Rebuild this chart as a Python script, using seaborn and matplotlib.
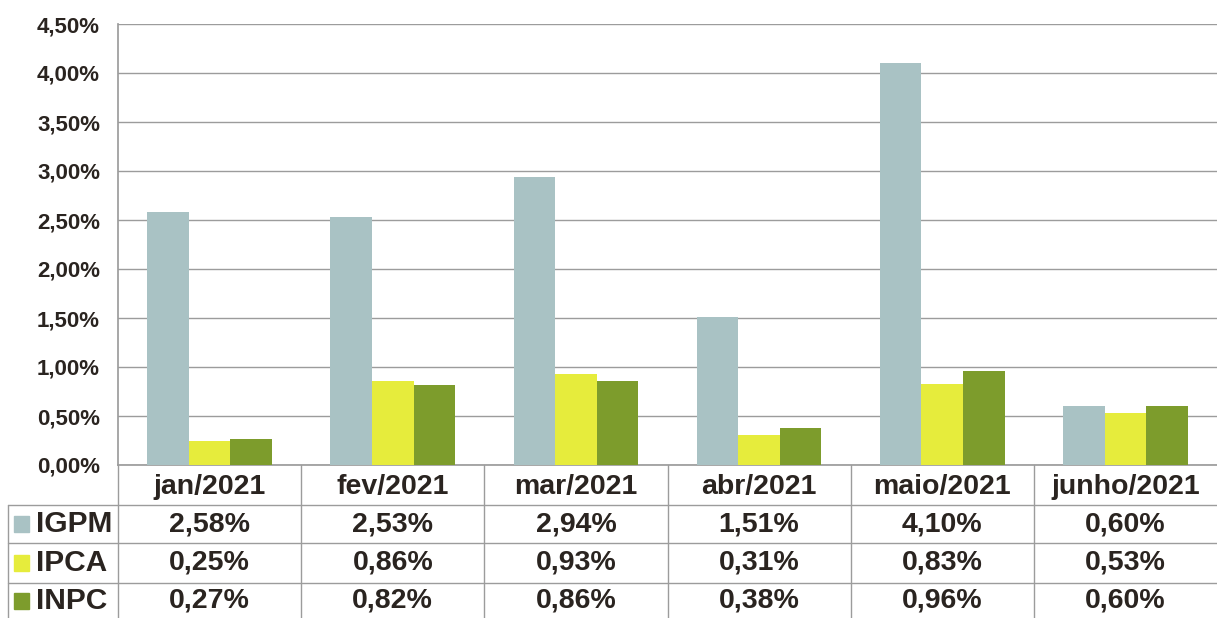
import numpy as np
import pandas as pd
import matplotlib.pyplot as plt
import matplotlib.transforms as mtransforms
import matplotlib.ticker as mticker
import seaborn as sns

# ── data ─────────────────────────────────────────────────────────────────────
meses = ['jan/2021', 'fev/2021', 'mar/2021', 'abr/2021', 'maio/2021', 'junho/2021']
indices = ['IGPM', 'IPCA', 'INPC']
igpm = [2.58, 2.53, 2.94, 1.51, 4.10, 0.60]
ipca = [0.25, 0.86, 0.93, 0.31, 0.83, 0.53]
inpc = [0.27, 0.82, 0.86, 0.38, 0.96, 0.60]
cores = {'IGPM': '#a9c2c4', 'IPCA': '#e6ec3c', 'INPC': '#7d9c2c'}

df = pd.DataFrame({
    'mes': meses * 3,
    'indice': np.repeat(indices, len(meses)),
    'valor': igpm + ipca + inpc,
})

def fmt(v):
    return f'{v:.2f}%'.replace('.', ',')

# ── style ────────────────────────────────────────────────────────────────────
sns.set_theme(style='white')
plt.rcParams['font.family'] = ['Liberation Sans', 'DejaVu Sans']
TXT = '#2a2420'
LINE = '#9c9c9c'

fig = plt.figure(figsize=(12.17, 6.18), dpi=100, facecolor='white')
W, H = 1217, 618
ax = fig.add_axes([118 / W, (H - 465) / H, 1099 / W, 441 / H])

sns.barplot(data=df, x='mes', y='valor', hue='indice', order=meses,
            hue_order=indices, palette=cores, width=0.68, saturation=1,
            linewidth=0, legend=False, ax=ax, zorder=3)

ax.set_ylim(0, 4.5)
ax.set_xlim(-0.5, len(meses) - 0.5)
ax.yaxis.set_major_locator(mticker.MultipleLocator(0.5))
ax.yaxis.set_major_formatter(mticker.FuncFormatter(lambda v, p: fmt(v)))
ax.tick_params(axis='y', labelsize=16, colors=TXT, length=0, pad=13)
for lab in ax.get_yticklabels():
    lab.set_fontweight('bold')
ax.set_xticks([])
ax.set_xlabel('')
ax.set_ylabel('')
ax.grid(axis='y', color=LINE, lw=1, zorder=0)
for s in ['top', 'right']:
    ax.spines[s].set_visible(False)
ax.spines['left'].set_color(LINE)
ax.spines['bottom'].set_color(LINE)

# ── data table under the plot ────────────────────────────────────────────────
blend = mtransforms.blended_transform_factory(ax.transData, ax.transAxes)
row_lines = [-0.0907, -0.177, -0.268, -0.36]
row_text = [-0.134, -0.222, -0.308]
head_y = -0.050

for y in row_lines[:-1]:
    ax.plot([-0.1, 1], [y, y], transform=ax.transAxes, color=LINE, lw=1, clip_on=False)
ax.plot([-0.1, -0.1], [row_lines[0], row_lines[-1]], transform=ax.transAxes,
        color=LINE, lw=1, clip_on=False)
ax.plot([0, 0], [0, row_lines[-1]], transform=ax.transAxes, color=LINE, lw=1, clip_on=False)
for i in range(1, len(meses)):
    ax.plot([i - 0.5, i - 0.5], [0, row_lines[-1]], transform=blend,
            color=LINE, lw=1, clip_on=False)

for i, m in enumerate(meses):
    ax.text(i, head_y, m, transform=blend, ha='center', va='center',
            fontsize=20.5, fontweight='bold', color=TXT, clip_on=False)

for r, (nome, vals) in enumerate(zip(indices, [igpm, ipca, inpc])):
    y = row_text[r]
    ax.add_patch(plt.Rectangle((-0.0946, y - 0.018), 0.0138, 0.036, transform=ax.transAxes,
                               color=cores[nome], clip_on=False))
    ax.text(-0.075, y, nome, transform=ax.transAxes, ha='left', va='center',
            fontsize=21.5, fontweight='bold', color=TXT, clip_on=False)
    for i, v in enumerate(vals):
        ax.text(i, y, fmt(v), transform=blend, ha='center', va='center',
                fontsize=20.5, fontweight='bold', color=TXT, clip_on=False)

plt.savefig('out.png', dpi=100, facecolor='white')
